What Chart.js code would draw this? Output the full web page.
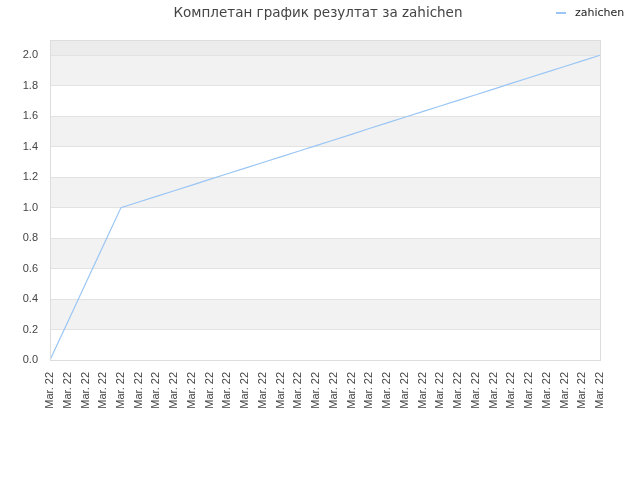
<!DOCTYPE html>
<html>
<head>
<meta charset="utf-8">
<script src="https://cdn.jsdelivr.net/npm/chart.js@4"></script>
<style>
  body { margin: 0; background: #fff; }
  #wrap { position: relative; width: 640px; height: 480px; }
  #title { position: absolute; left: 0; width: 636px; top: 4px; text-align: center;
           font: 13.5px "DejaVu Sans", sans-serif; color: #444; }
  #legend { position: absolute; left: 556px; top: 6px; font: 11px "DejaVu Sans", sans-serif; color: #222; }
  #legend span { display: inline-block; width: 10px; height: 0; border-top: 2px solid #9ac6f5;
                 vertical-align: middle; margin-right: 9px; }
</style>
</head>
<body>
<div id="wrap">
  <canvas id="myChart" width="640" height="480"></canvas>
  <div id="title">Комплетан график резултат за zahichen</div>
  <div id="legend"><span></span>zahichen</div>
</div>
<script>
const seriesName = 'zahichen';

const labels = [
  'Mar. 22', 'Mar. 22', 'Mar. 22', 'Mar. 22', 'Mar. 22', 'Mar. 22', 'Mar. 22', 'Mar. 22',
  'Mar. 22', 'Mar. 22', 'Mar. 22', 'Mar. 22', 'Mar. 22', 'Mar. 22', 'Mar. 22', 'Mar. 22',
  'Mar. 22', 'Mar. 22', 'Mar. 22', 'Mar. 22', 'Mar. 22', 'Mar. 22', 'Mar. 22', 'Mar. 22',
  'Mar. 22', 'Mar. 22', 'Mar. 22', 'Mar. 22', 'Mar. 22', 'Mar. 22', 'Mar. 22', 'Mar. 22'
];

const scores = [
  0, 0.25, 0.5, 0.75, 1.0, 1.037, 1.074, 1.111,
  1.148, 1.185, 1.222, 1.259, 1.296, 1.333, 1.37, 1.407,
  1.444, 1.481, 1.519, 1.556, 1.593, 1.63, 1.667, 1.704,
  1.741, 1.778, 1.815, 1.852, 1.889, 1.926, 1.963, 2.0
];

const yTicks = [0, 0.2, 0.4, 0.6, 0.8, 1.0, 1.2, 1.4, 1.6, 1.8, 2.0];

// grey bands behind the plot + border round it
const bands = {
  id: 'bands',
  beforeDraw(chart) {
    const c = chart.ctx, a = chart.chartArea, y = chart.scales.y;
    c.save();
    c.fillStyle = '#ececec';
    c.fillRect(a.left, a.top, a.right - a.left, y.getPixelForValue(2.0) - a.top);
    c.fillStyle = '#f2f2f2';
    for (let i = yTicks.length - 1; i > 0; i -= 2) {
      const top = y.getPixelForValue(yTicks[i]);
      const bot = y.getPixelForValue(yTicks[i - 1]);
      c.fillRect(a.left, top, a.right - a.left, bot - top);
    }
    c.restore();
  },
  afterDraw(chart) {
    const c = chart.ctx, a = chart.chartArea;
    c.save();
    c.strokeStyle = '#dddddd';
    c.lineWidth = 1;
    c.strokeRect(a.left + 0.5, a.top + 0.5, a.right - a.left, a.bottom - a.top);
    c.restore();
  }
};

const ctx = document.getElementById('myChart').getContext('2d');
const myChart = new Chart(ctx, {
  type: 'line',
  data: {
    labels: labels,
    datasets: [{
      label: seriesName,
      data: scores,
      borderColor: '#9ac6f5',
      borderWidth: 1.2,
      pointRadius: 0,
      tension: 0,
      fill: false
    }]
  },
  options: {
    responsive: false,
    animation: false,
    layout: { padding: { top: 40, right: 40, left: 0, bottom: 0 } },
    plugins: {
      legend: { display: false },
      title: { display: false },
      tooltip: { enabled: false }
    },
    scales: {
      x: {
        offset: false,
        grid: { display: false, drawTicks: false },
        border: { display: false },
        ticks: {
          autoSkip: false,
          maxRotation: 90,
          minRotation: 90,
          padding: 12,
          color: '#444',
          font: { family: 'Liberation Sans, Arial, sans-serif', size: 11 }
        },
        afterFit(axis) { axis.height = 120; }
      },
      y: {
        min: 0,
        max: 2.1,
        afterBuildTicks(axis) { axis.ticks = yTicks.map(v => ({ value: v })); },
        grid: { color: '#e2e2e2', drawTicks: false },
        border: { display: false },
        ticks: {
          padding: 12,
          color: '#444',
          font: { family: 'Liberation Sans, Arial, sans-serif', size: 11 },
          callback: v => v.toFixed(1)
        },
        afterFit(axis) { axis.width = 50; }
      }
    }
  },
  plugins: [bands]
});
</script>
</body>
</html>
